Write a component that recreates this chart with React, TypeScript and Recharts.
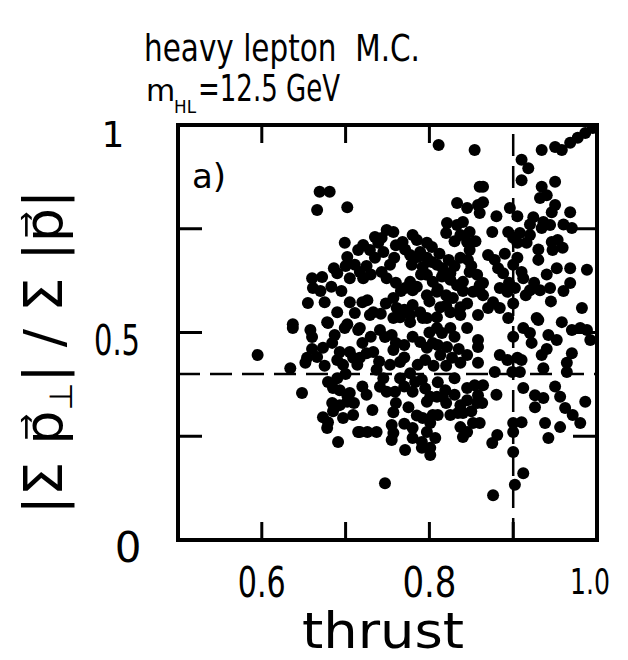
import React from 'react'
import {
  ScatterChart,
  Scatter,
  XAxis,
  YAxis,
  ReferenceLine,
  ReferenceArea,
} from 'recharts'

// [thrust, |sum p_perp| / sum |p|], grouped by region
const lowThrustUpper: [number, number][] = [
  [0.669, 0.839], [0.681, 0.839], [0.666, 0.795], [0.702, 0.802], [0.699, 0.716],
  [0.715, 0.699], [0.702, 0.682], [0.711, 0.663], [0.66, 0.631], [0.672, 0.634],
  [0.69, 0.643], [0.705, 0.631], [0.717, 0.646], [0.661, 0.607], [0.655, 0.571],
  [0.675, 0.573], [0.705, 0.573], [0.72, 0.573], [0.69, 0.549], [0.711, 0.547],
  [0.637, 0.52], [0.678, 0.525], [0.702, 0.52], [0.695, 0.6], [0.683, 0.61],
  [0.67, 0.6], [0.686, 0.655], [0.7, 0.66],
]

const lowThrustLower: [number, number][] = [
  [0.637, 0.511], [0.658, 0.506], [0.66, 0.489], [0.679, 0.523], [0.699, 0.511],
  [0.715, 0.506], [0.595, 0.446], [0.634, 0.414], [0.648, 0.354], [0.654, 0.439],
  [0.666, 0.441], [0.673, 0.463], [0.684, 0.475], [0.687, 0.494], [0.693, 0.453],
  [0.705, 0.453], [0.709, 0.439], [0.714, 0.422], [0.69, 0.434], [0.697, 0.422],
  [0.652, 0.427], [0.679, 0.381], [0.685, 0.366], [0.693, 0.361], [0.702, 0.349],
  [0.705, 0.354], [0.684, 0.33], [0.693, 0.325], [0.702, 0.333], [0.673, 0.296],
  [0.679, 0.284], [0.678, 0.27], [0.697, 0.294], [0.709, 0.301], [0.715, 0.26],
  [0.691, 0.236], [0.69, 0.39], [0.7, 0.4], [0.675, 0.42], [0.66, 0.46],
  [0.685, 0.31], [0.71, 0.33],
]

const midThrustUpper: [number, number][] = [
  [0.811, 0.952], [0.854, 0.94], [0.864, 0.851], [0.833, 0.812], [0.845, 0.8],
  [0.858, 0.807], [0.86, 0.788], [0.821, 0.764], [0.833, 0.759], [0.84, 0.766],
  [0.848, 0.742], [0.837, 0.735], [0.845, 0.718], [0.848, 0.699], [0.837, 0.68],
  [0.846, 0.675], [0.749, 0.747], [0.757, 0.742], [0.743, 0.728], [0.739, 0.716],
  [0.721, 0.711], [0.729, 0.699], [0.745, 0.694], [0.78, 0.735], [0.785, 0.723],
  [0.768, 0.718], [0.797, 0.716], [0.803, 0.706], [0.777, 0.687], [0.786, 0.682],
  [0.797, 0.68], [0.779, 0.663], [0.792, 0.658], [0.803, 0.67], [0.809, 0.663],
  [0.816, 0.655], [0.825, 0.643], [0.753, 0.663], [0.743, 0.646], [0.749, 0.631],
  [0.721, 0.631], [0.777, 0.622], [0.771, 0.607], [0.78, 0.602], [0.797, 0.639],
  [0.804, 0.622], [0.797, 0.59], [0.809, 0.598], [0.825, 0.627], [0.833, 0.614],
  [0.84, 0.622], [0.848, 0.646], [0.857, 0.639], [0.86, 0.614], [0.852, 0.598],
  [0.864, 0.59], [0.828, 0.583], [0.837, 0.561], [0.825, 0.549], [0.837, 0.542],
  [0.726, 0.578], [0.733, 0.549], [0.757, 0.583], [0.761, 0.559], [0.765, 0.537],
  [0.78, 0.566], [0.789, 0.549], [0.797, 0.535], [0.777, 0.542], [0.813, 0.561],
  [0.809, 0.537], [0.858, 0.542],
]

const midThrustCore: [number, number][] = [
  [0.771, 0.7], [0.789, 0.694], [0.812, 0.69], [0.823, 0.675], [0.83, 0.66],
  [0.79, 0.64], [0.815, 0.635], [0.785, 0.61], [0.81, 0.605], [0.82, 0.59],
  [0.76, 0.62], [0.766, 0.6], [0.735, 0.68], [0.725, 0.66], [0.73, 0.64],
  [0.758, 0.68], [0.76, 0.71], [0.735, 0.73], [0.83, 0.72], [0.82, 0.74],
  [0.855, 0.72], [0.85, 0.66], [0.84, 0.6], [0.845, 0.57], [0.82, 0.565],
  [0.8, 0.575], [0.748, 0.57], [0.742, 0.545], [0.77, 0.555],
  [0.8, 0.5], [0.83, 0.49], [0.835, 0.46], [0.81, 0.47], [0.78, 0.49],
  [0.77, 0.47], [0.76, 0.475], [0.77, 0.44], [0.74, 0.43], [0.725, 0.45],
  [0.73, 0.49], [0.72, 0.475], [0.82, 0.42], [0.805, 0.42], [0.83, 0.39],
  [0.81, 0.38], [0.795, 0.365], [0.77, 0.37], [0.765, 0.39], [0.76, 0.33],
  [0.775, 0.32], [0.785, 0.3], [0.77, 0.28], [0.78, 0.27], [0.82, 0.33],
  [0.83, 0.35], [0.85, 0.31], [0.72, 0.37], [0.725, 0.35],
]

const midThrustLower: [number, number][] = [
  [0.729, 0.542], [0.757, 0.535], [0.777, 0.525], [0.792, 0.535], [0.741, 0.506],
  [0.747, 0.489], [0.755, 0.494], [0.809, 0.511], [0.815, 0.499], [0.825, 0.511],
  [0.845, 0.511], [0.858, 0.482], [0.717, 0.511], [0.733, 0.453], [0.757, 0.458],
  [0.765, 0.429], [0.753, 0.422], [0.789, 0.477], [0.797, 0.463], [0.804, 0.475],
  [0.813, 0.446], [0.821, 0.465], [0.827, 0.439], [0.837, 0.427], [0.845, 0.446],
  [0.795, 0.434], [0.786, 0.422], [0.858, 0.465], [0.858, 0.427], [0.717, 0.439],
  [0.737, 0.41], [0.745, 0.39], [0.741, 0.369], [0.749, 0.357], [0.759, 0.357],
  [0.777, 0.402], [0.783, 0.381], [0.78, 0.357], [0.791, 0.386], [0.801, 0.345],
  [0.797, 0.333], [0.809, 0.345], [0.819, 0.361], [0.816, 0.345], [0.845, 0.366],
  [0.854, 0.373], [0.858, 0.349], [0.845, 0.337], [0.837, 0.325], [0.84, 0.306],
  [0.857, 0.33], [0.732, 0.313], [0.757, 0.308], [0.792, 0.294], [0.804, 0.301],
  [0.801, 0.282], [0.81, 0.301], [0.825, 0.301], [0.834, 0.306], [0.837, 0.272],
  [0.845, 0.26], [0.852, 0.282], [0.84, 0.248], [0.717, 0.26], [0.737, 0.26],
  [0.726, 0.26], [0.755, 0.277], [0.757, 0.258], [0.755, 0.241], [0.78, 0.246],
  [0.791, 0.236], [0.801, 0.222], [0.797, 0.26], [0.807, 0.246], [0.771, 0.217],
  [0.791, 0.222], [0.801, 0.205], [0.747, 0.137],
]

const highThrustUpper: [number, number][] = [
  [0.995, 0.993], [0.986, 0.981], [0.977, 0.969], [0.968, 0.957], [0.934, 0.94],
  [0.95, 0.947], [0.958, 0.94], [0.91, 0.916], [0.918, 0.896], [0.91, 0.867],
  [0.934, 0.851], [0.95, 0.863], [0.94, 0.831], [0.932, 0.824], [0.86, 0.851],
  [0.864, 0.814], [0.896, 0.8], [0.95, 0.807], [0.946, 0.79], [0.924, 0.778],
  [0.936, 0.766], [0.944, 0.759], [0.968, 0.79], [0.97, 0.752], [0.875, 0.742],
  [0.894, 0.742], [0.9, 0.728], [0.908, 0.74], [0.92, 0.735], [0.916, 0.716],
  [0.905, 0.716], [0.934, 0.752], [0.946, 0.718], [0.953, 0.723], [0.959, 0.704],
  [0.947, 0.699], [0.87, 0.687], [0.878, 0.675], [0.882, 0.655], [0.888, 0.643],
  [0.9, 0.663], [0.91, 0.646], [0.912, 0.631], [0.93, 0.675], [0.952, 0.655],
  [0.968, 0.655], [0.988, 0.651], [0.968, 0.619], [0.884, 0.607], [0.893, 0.598],
  [0.902, 0.607], [0.92, 0.602], [0.932, 0.602], [0.944, 0.607], [0.864, 0.619],
  [0.86, 0.598], [0.876, 0.573], [0.87, 0.559], [0.884, 0.559], [0.982, 0.559],
  [0.894, 0.535], [0.928, 0.535], [0.958, 0.525], [0.89, 0.69], [0.905, 0.68],
  [0.895, 0.62], [0.925, 0.62], [0.94, 0.64], [0.96, 0.6], [0.945, 0.575],
  [0.9, 0.57], [0.915, 0.59], [0.93, 0.7], [0.96, 0.76], [0.92, 0.76],
  [0.905, 0.78], [0.88, 0.78],
]

const highThrustLower: [number, number][] = [
  [0.93, 0.53], [0.912, 0.511], [0.92, 0.499], [0.922, 0.475], [0.942, 0.494],
  [0.952, 0.482], [0.97, 0.506], [0.98, 0.511], [0.988, 0.506], [0.992, 0.482],
  [0.884, 0.446], [0.893, 0.434], [0.905, 0.439], [0.91, 0.434], [0.878, 0.405],
  [0.899, 0.405], [0.908, 0.405], [0.934, 0.446], [0.936, 0.414], [0.964, 0.427],
  [0.964, 0.405], [0.864, 0.373], [0.863, 0.33], [0.912, 0.366], [0.926, 0.349],
  [0.936, 0.342], [0.926, 0.32], [0.956, 0.345], [0.962, 0.318], [0.971, 0.301],
  [0.98, 0.282], [0.986, 0.333], [0.938, 0.282], [0.956, 0.272], [0.942, 0.246],
  [0.9, 0.282], [0.91, 0.284], [0.9, 0.26], [0.881, 0.253], [0.875, 0.234],
  [0.9, 0.212], [0.86, 0.282], [0.912, 0.161], [0.902, 0.133], [0.876, 0.108],
  [0.9, 0.49], [0.94, 0.46], [0.88, 0.35], [0.95, 0.37], [0.97, 0.45],
]

const xTicks = [0.6, 0.7, 0.8, 0.9, 1.0]
const xLabels = [0.6, 0.8, 1.0]
const yTicks = [0, 0.25, 0.5, 0.75, 1]
const yLabels = [0, 0.5, 1]
const cutThrust = 0.9
const cutRatio = 0.4

const events = [
  ...lowThrustUpper,
  ...lowThrustLower,
  ...midThrustUpper,
  ...midThrustCore,
  ...midThrustLower,
  ...highThrustUpper,
  ...highThrustLower,
].map(([t, r]) => ({ t, r }))

const W = 620
const H = 652
const X_AXIS_H = 30
const Y_AXIS_W = 60
// plot box: left 170, top 117, right 589, bottom 532 (svg pixels)
const M = { top: 117, right: 31, bottom: 120 - X_AXIS_H, left: 170 - Y_AXIS_W }
const PLOT_W = 419
const PLOT_H = 415
const FONT = '"DejaVu Sans", sans-serif'

const XTick = (props: any) => {
  const { x, y, payload } = props
  const v = payload.value
  const label = xLabels.includes(v)
  const last = v === 1
  return (
    <g>
      {!last && <line x1={x} y1={y} x2={x} y2={y - 18} stroke="#000" strokeWidth={3} />}
      {v < 0.85 && (
        <line x1={x} y1={y - PLOT_H} x2={x} y2={y - PLOT_H + 18} stroke="#000" strokeWidth={3} />
      )}
      {label && (
        <text
          x={last ? x - 7 : x}
          y={last ? y + 54 : y + 57}
          textAnchor="middle"
          fontSize={last ? 36 : 42}
          fontFamily={FONT}
          textLength={last ? 40 : v === 0.8 ? 54 : 48}
          lengthAdjust="spacingAndGlyphs"
        >
          {v.toFixed(1)}
        </text>
      )}
    </g>
  )
}

const YTick = (props: any) => {
  const { x, y, payload } = props
  const v = payload.value
  const inner = v > 0 && v < 1
  const dx = v === 1 ? -65 : v === 0.5 ? -61 : -50
  return (
    <g>
      {inner && <line x1={x} y1={y} x2={x + 24} y2={y} stroke="#000" strokeWidth={3} />}
      {inner && (
        <line x1={x + PLOT_W - 24} y1={y} x2={x + PLOT_W} y2={y} stroke="#000" strokeWidth={3} />
      )}
      {yLabels.includes(v) && (
        <text
          x={x + dx}
          y={y + 22}
          textAnchor="middle"
          fontSize={v === 1 ? 36 : 42}
          fontFamily={FONT}
          textLength={v === 0.5 ? 46 : undefined}
          lengthAdjust="spacingAndGlyphs"
        >
          {String(v)}
        </text>
      )}
    </g>
  )
}

const Dot = (props: any) => <circle cx={props.cx} cy={props.cy} r={6} fill="#000" />

export default function App() {
  return (
    <div style={{ position: 'relative', width: W, height: H }}>
      <ScatterChart width={W} height={H} margin={M}>
        <XAxis
          type="number"
          dataKey="t"
          domain={[0.5, 1]}
          ticks={xTicks}
          height={X_AXIS_H}
          tickSize={0}
          tickMargin={0}
          axisLine={false}
          tickLine={false}
          tick={XTick}
          allowDataOverflow
        />
        <YAxis
          type="number"
          dataKey="r"
          domain={[0, 1]}
          ticks={yTicks}
          width={Y_AXIS_W}
          tickSize={0}
          tickMargin={0}
          axisLine={false}
          tickLine={false}
          tick={YTick}
          allowDataOverflow
        />
        <ReferenceArea x1={0.5} x2={1} y1={0} y2={1} fill="none" stroke="#000" strokeWidth={4} />
        <ReferenceLine x={cutThrust} stroke="#000" strokeWidth={2.5} strokeDasharray="22 10" />
        <ReferenceLine y={cutRatio} stroke="#000" strokeWidth={2.5} strokeDasharray="22 10" />
        <Scatter data={events} shape={Dot} isAnimationActive={false} />
      </ScatterChart>
      <svg
        width={W}
        height={H}
        style={{ position: 'absolute', left: 0, top: 0, pointerEvents: 'none', overflow: 'visible' }}
        fontFamily={FONT}
      >
        <text x={136} y={53} fontSize={38} textLength={276} lengthAdjust="spacingAndGlyphs">
          heavy lepton{'\u00A0\u00A0'}M.C.
        </text>
        <text x={138} y={93} fontSize={30}>m</text>
        <text x={166} y={105} fontSize={18} textLength={22} lengthAdjust="spacingAndGlyphs">
          HL
        </text>
        <text x={190} y={93} fontSize={38} textLength={142} lengthAdjust="spacingAndGlyphs">
          =12.5 GeV
        </text>
        <text x={184} y={180} fontSize={34}>a)</text>
        <text
          x={375}
          y={640}
          fontSize={50}
          textAnchor="middle"
          textLength={162}
          lengthAdjust="spacingAndGlyphs"
        >
          thrust
        </text>
        <text transform="translate(54, 344) rotate(-90)" textAnchor="middle" fontSize={54}>
          |Σ p{'\u20D7'}
          <tspan fontSize={32} dy={10}>⊥</tspan>
          <tspan dy={-10}>| / Σ |p{'\u20D7'}|</tspan>
        </text>
      </svg>
    </div>
  )
}
